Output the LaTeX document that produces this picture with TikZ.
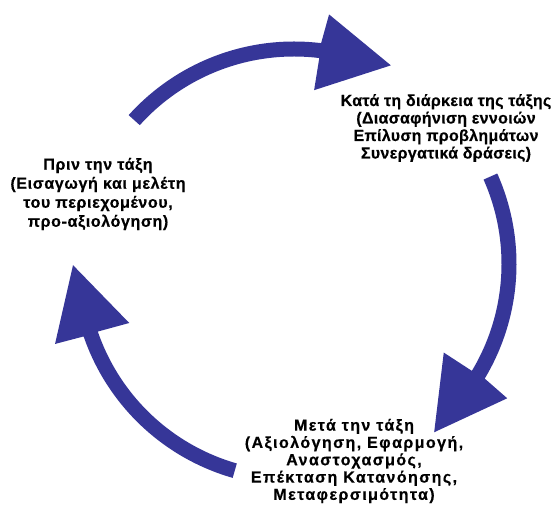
\documentclass[tikz,border=0pt]{standalone}
\usepackage{fontspec}
\setmainfont{Liberation Sans}
\newfontfamily\lefttextfont[LetterSpace=4,FakeBold=0.4]{Liberation Sans Bold}
\newfontfamily\righttextfont[LetterSpace=2,FakeBold=0.4]{Liberation Sans Bold}
\newfontfamily\bottomtextfont[LetterSpace=9,FakeBold=0.4]{Liberation Sans Bold}
\definecolor{cyclblue}{RGB}{54,54,152}
\tikzset{
  cycarrow/.style={fill=cyclblue, draw=none},
  cyctext/.style={align=center, inner sep=0pt, text=black}
}
\begin{document}
\begin{tikzpicture}[x=1pt,y=1pt]
\useasboundingbox (0,0) rectangle (554,507);
\begin{scope}[shift={(294pt,243pt)}]
% top arrow
\fill[cycarrow] (138:222.5pt) arc[start angle=138,end angle=83,radius=222.5pt]
  -- (82:252pt) -- (64:221pt) -- (83.4:175pt) -- (83:207.5pt)
  arc[start angle=83,end angle=138,radius=207.5pt] -- cycle;
% right arrow
\fill[cycarrow] (24:222.5pt) arc[start angle=24,end angle=-31,radius=222.5pt]
  -- (-32.2:252pt) -- (-50.2:219pt) -- (-30.6:174pt) -- (-31:207.5pt)
  arc[start angle=-31,end angle=24,radius=207.5pt] -- cycle;
% left arrow
\fill[cycarrow] (254:222.5pt) arc[start angle=254,end angle=199,radius=222.5pt]
  -- (198.5:252pt) -- (180.3:221pt) -- (199.7:175pt) -- (199:207.5pt)
  arc[start angle=199,end angle=254,radius=207.5pt] -- cycle;
\end{scope}
\node[cyctext, font=\lefttextfont\fontsize{16}{19}\selectfont] (before) at (98,313)
  {Πριν την τάξη\\(Εισαγωγή και μελέτη\\του περιεχομένου,\\προ-αξιολόγηση)};
\node[cyctext, font=\righttextfont\fontsize{16}{17.5}\selectfont] (during) at (446,379)
  {Κατά τη διάρκεια της τάξης\\(Διασαφήνιση εννοιών\\Επίλυση προβλημάτων\\Συνεργατικά δράσεις)};
\node[cyctext, font=\bottomtextfont\fontsize{16}{17.3}\selectfont] (after) at (354,46)
  {Μετά την τάξη\\(Αξιολόγηση, Εφαρμογή,\\Αναστοχασμός,\\Επέκταση Κατανόησης,\\Μεταφερσιμότητα)};
\end{tikzpicture}
\end{document}
